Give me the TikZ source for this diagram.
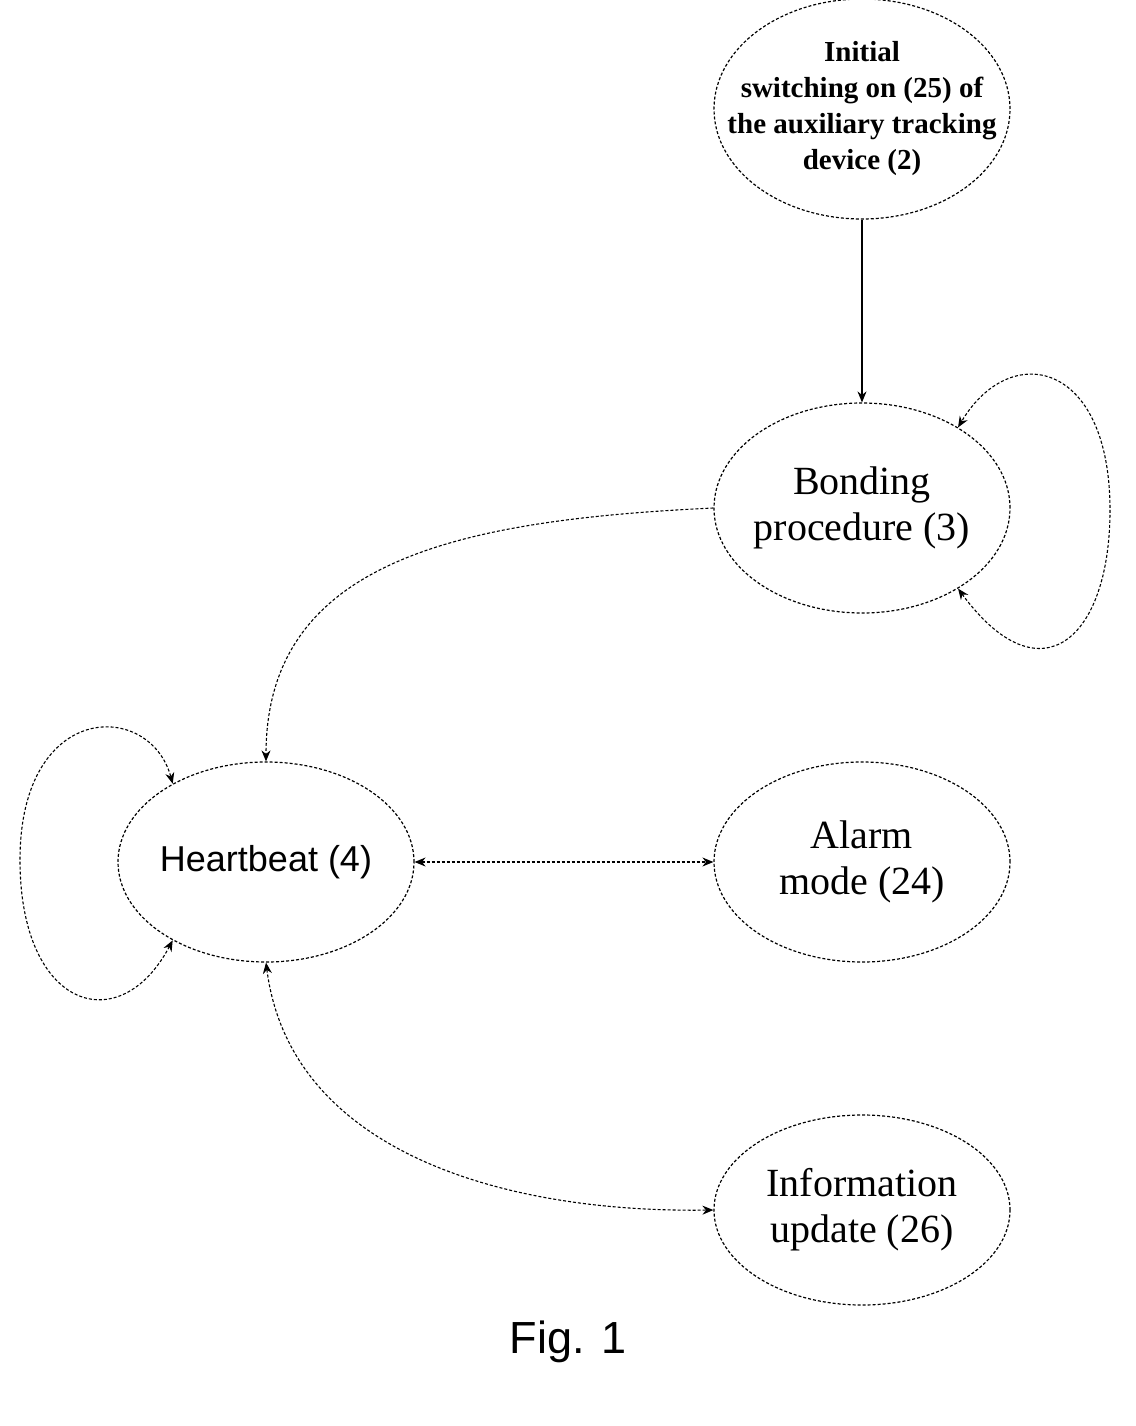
\documentclass[tikz,border=0pt]{standalone}
\usepackage{fontspec}
\setmainfont{Liberation Serif}
\setsansfont{Liberation Sans}
\usetikzlibrary{shapes.geometric,arrows.meta}
\begin{document}
\begin{tikzpicture}[x=1pt,y=-1pt,
  st/.style={ellipse,draw,line width=1.2pt,densely dashed,minimum width=296pt,inner sep=0pt},
  tx/.style={align=center,font=\fontsize{40}{46}\selectfont},
  ln/.style={line width=1.1pt,densely dashed,-{Stealth[length=11pt,width=9pt]}},
  bi/.style={line width=1.1pt,densely dashed,{Stealth[length=11pt,width=9pt]}-{Stealth[length=11pt,width=9pt]}}]
\useasboundingbox (0,0) rectangle (1135,1426);
\node[st,minimum height=220pt] (init) at (862,109) {};
\node[tx,font=\fontsize{29}{36}\selectfont\bfseries] (initt) at (init.center) {Initial\\switching on (25) of\\the auxiliary tracking\\device (2)};
\node[st,minimum height=210pt] (bond) at (862,508) {};
\node[tx] (bondt) at (bond.center) {Bonding\\procedure (3)};
\node[st,minimum height=200pt] (hb) at (266,862) {};
\node[tx,font=\sffamily\fontsize{36}{42}\selectfont] (hbt) at (hb.center) {Heartbeat (4)};
\node[st,minimum height=200pt] (alarm) at (862,862) {};
\node[tx] (alarmt) at (alarm.center) {Alarm\\mode (24)};
\node[st,minimum height=190pt] (info) at (862,1210) {};
\node[tx] (infot) at (info.center) {Information\\update (26)};
\node[font=\sffamily\fontsize{45}{50}\selectfont] (fig) at (568,1342) {Fig. 1};
\draw[line width=1.1pt,-{Stealth[length=11pt,width=9pt]}] (init.south) -- (bond.north);
\draw[bi] (bond.-40) .. controls (1040,700) and (1110,640) .. (1110,510) .. controls (1110,360) and (1010,340) .. (bond.40);
\draw[ln] (bond.west) .. controls (460,520) and (266,560) .. (hb.north);
\draw[bi] (hb.-140) .. controls (120,1040) and (20,1010) .. (20,860) .. controls (20,700) and (150,700) .. (hb.140);
\draw[bi] (hb.east) -- (alarm.west);
\draw[bi] (hb.south) .. controls (290,1150) and (500,1213) .. (info.west);
\end{tikzpicture}
\end{document}
